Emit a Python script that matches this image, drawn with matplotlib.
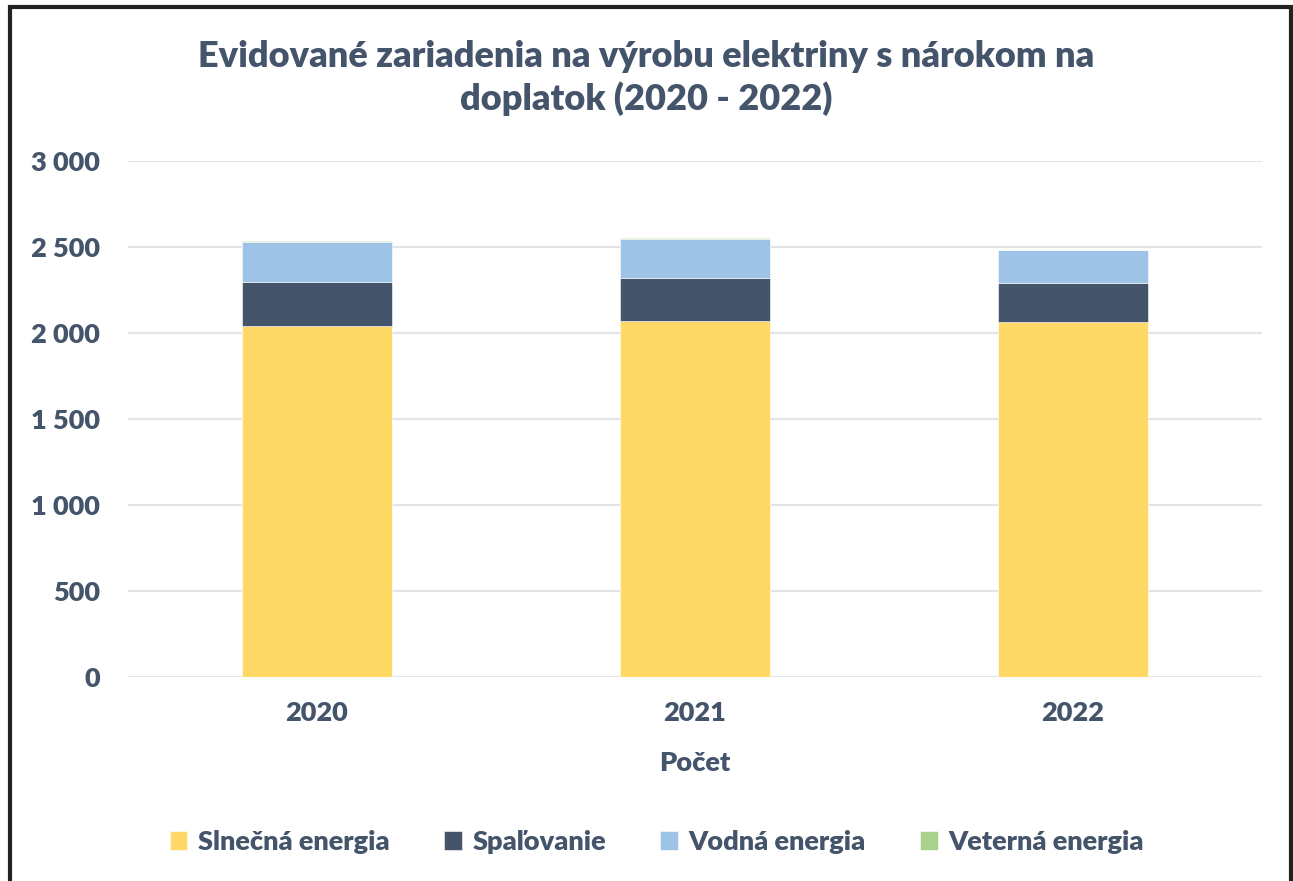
import matplotlib.pyplot as plt
import numpy as np
from matplotlib.patches import Rectangle

# ── data ────────────────────────────────────────────────────────────────────
years = ["2020", "2021", "2022"]
slnecna = [2039, 2069, 2064]
spalovanie = [259, 253, 225]
vodna = [233, 225, 191]
veterna = [3, 3, 3]

series_names = ["Slnečná energia", "Spaľovanie", "Vodná energia", "Veterná energia"]
colors = ["#FFD966", "#44546A", "#9DC3E6", "#A9D18E"]
yticks = [0, 500, 1000, 1500, 2000, 2500, 3000]
ytick_labels = ["0", "500", "1 000", "1 500", "2 000", "2 500", "3 000"]

text_col = "#44546A"
wt = "heavy"
plt.rcParams["font.family"] = ["Lato", "DejaVu Sans"]
plt.rcParams["font.weight"] = wt

fig = plt.figure(figsize=(12.93, 8.81), dpi=100)
W, H = 1293, 881
ax = fig.add_axes([128 / W, 1 - 677 / H, (1262 - 128) / W, (677 - 161) / H])

x = np.arange(len(years))
bottom = np.zeros(len(years))
for vals, name, col in zip([slnecna, spalovanie, vodna, veterna], series_names, colors):
    ax.bar(x, vals, width=0.397, bottom=bottom, color=col, label=name,
           edgecolor="white", linewidth=0.4, zorder=3)
    bottom += np.array(vals)

ax.set_xlim(-0.5, 2.5)
ax.set_ylim(0, 3000)
ax.set_yticks(yticks)
ax.set_yticklabels(ytick_labels)
ax.set_xticks(x)
ax.set_xticklabels(years)
ax.grid(axis="y", color="#E1E5EA", lw=1.6, zorder=0)
for s in ax.spines.values():
    s.set_visible(False)
ax.tick_params(length=0, labelsize=19.5, labelcolor=text_col)
ax.tick_params(axis="y", pad=20)
ax.tick_params(axis="x", pad=17)
for lab in ax.get_xticklabels() + ax.get_yticklabels():
    lab.set_fontweight(wt)

fig.text(0.5, 1 - 78 / H, "Evidované zariadenia na výrobu elektriny s nárokom na\ndoplatok (2020 - 2022)",
         ha="center", va="center", fontsize=26, fontweight=wt, color=text_col,
         linespacing=1.3)
fig.text(695 / W, 1 - 763 / H, "Počet", ha="center", va="center", fontsize=19.5,
         fontweight=wt, color=text_col)

leg = fig.legend(loc="center", bbox_to_anchor=(657 / W, 1 - 842 / H), ncol=4,
                 frameon=False, fontsize=19.5, handlelength=0.65, handleheight=0.65,
                 handletextpad=0.4, columnspacing=2.0)
for t in leg.get_texts():
    t.set_color(text_col)
    t.set_fontweight(wt)

# outer frame of the chart object
fig.patches.append(Rectangle((9.5 / W, -0.01), (1291 - 9.5) / W, 1 - 7 / H + 0.01,
                             transform=fig.transFigure, fill=False,
                             edgecolor="#222222", lw=3))

fig.savefig("out.png", dpi=100)
